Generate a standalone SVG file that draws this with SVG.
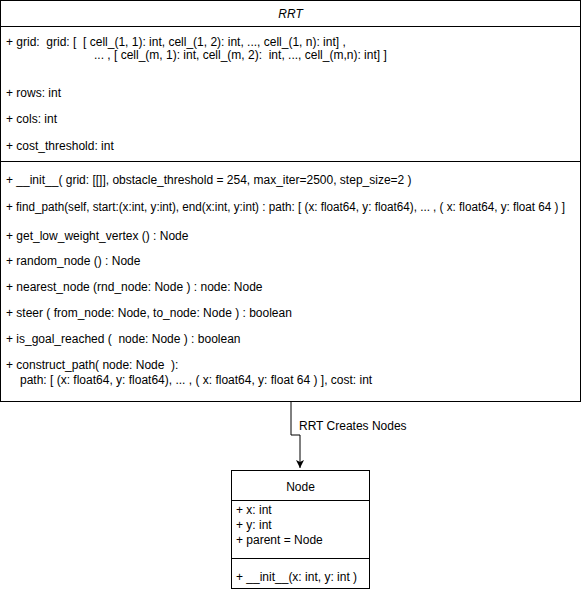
<svg xmlns="http://www.w3.org/2000/svg" width="581" height="589" viewBox="0 0 581 589">
<defs>
<style>
.box{fill:#fff;stroke:#000;stroke-width:1}
.ln{stroke:#000;stroke-width:1;fill:none}
text{font-family:"Liberation Sans",Arial,sans-serif;font-size:12px;fill:#000}
.c{text-anchor:middle}
</style>
<marker id="arr" markerWidth="10" markerHeight="10" refX="8" refY="5" orient="auto" markerUnits="userSpaceOnUse">
<path d="M0,1 L8,5 L0,9 L2,5 Z" fill="#000"/>
</marker>
</defs>
<g id="RRT">
<rect class="box" x="0.5" y="0.5" width="580" height="401"/>
<line class="ln" x1="0.5" y1="26.5" x2="580.5" y2="26.5"/>
<line class="ln" x1="0.5" y1="161.5" x2="580.5" y2="161.5"/>
<text class="c" x="290.5" y="18" font-style="italic">RRT</text>
<text x="6" y="46" xml:space="preserve">+ grid:  grid: [  [ cell_(1, 1): int, cell_(1, 2): int, ..., cell_(1, n): int] ,</text>
<text x="94" y="59" xml:space="preserve">... , [ cell_(m, 1): int, cell_(m, 2):  int, ..., cell_(m,n): int] ]</text>
<text x="6" y="97">+ rows: int</text>
<text x="6" y="123">+ cols: int</text>
<text x="6" y="150">+ cost_threshold: int</text>
<text x="6" y="184">+ __init__( grid: [[]], obstacle_threshold = 254, max_iter=2500, step_size=2 )</text>
<text x="6" y="211" textLength="559" lengthAdjust="spacingAndGlyphs">+ find_path(self, start:(x:int, y:int), end(x:int, y:int) : path: [ (x: float64, y: float64), ... , ( x: float64, y: float 64 ) ]</text>
<text x="6" y="240">+ get_low_weight_vertex () : Node</text>
<text x="6" y="265">+ random_node () : Node</text>
<text x="6" y="291">+ nearest_node (rnd_node: Node ) : node: Node</text>
<text x="6" y="317">+ steer ( from_node: Node, to_node: Node ) : boolean</text>
<text x="6" y="343" xml:space="preserve">+ is_goal_reached (  node: Node ) : boolean</text>
<text x="6" y="369" xml:space="preserve">+ construct_path( node: Node  ):</text>
<text x="20" y="384">path: [ (x: float64, y: float64), ... , ( x: float64, y: float 64 ) ], cost: int</text>
</g>
<g id="connectors">
<path class="ln" d="M291,401.5 V435 H300 V468" marker-end="url(#arr)"/>
<text x="299" y="430">RRT Creates Nodes</text>
</g>
<g id="Node">
<rect class="box" x="231.5" y="470.5" width="138" height="118"/>
<line class="ln" x1="231.5" y1="500.5" x2="369.5" y2="500.5"/>
<line class="ln" x1="231.5" y1="558.5" x2="369.5" y2="558.5"/>
<text class="c" x="300.5" y="491">Node</text>
<text x="236" y="514">+ x: int</text>
<text x="236" y="529">+ y: int</text>
<text x="236" y="544">+ parent = Node</text>
<text x="236" y="581">+ __init__(x: int, y: int )</text>
</g>
</svg>
